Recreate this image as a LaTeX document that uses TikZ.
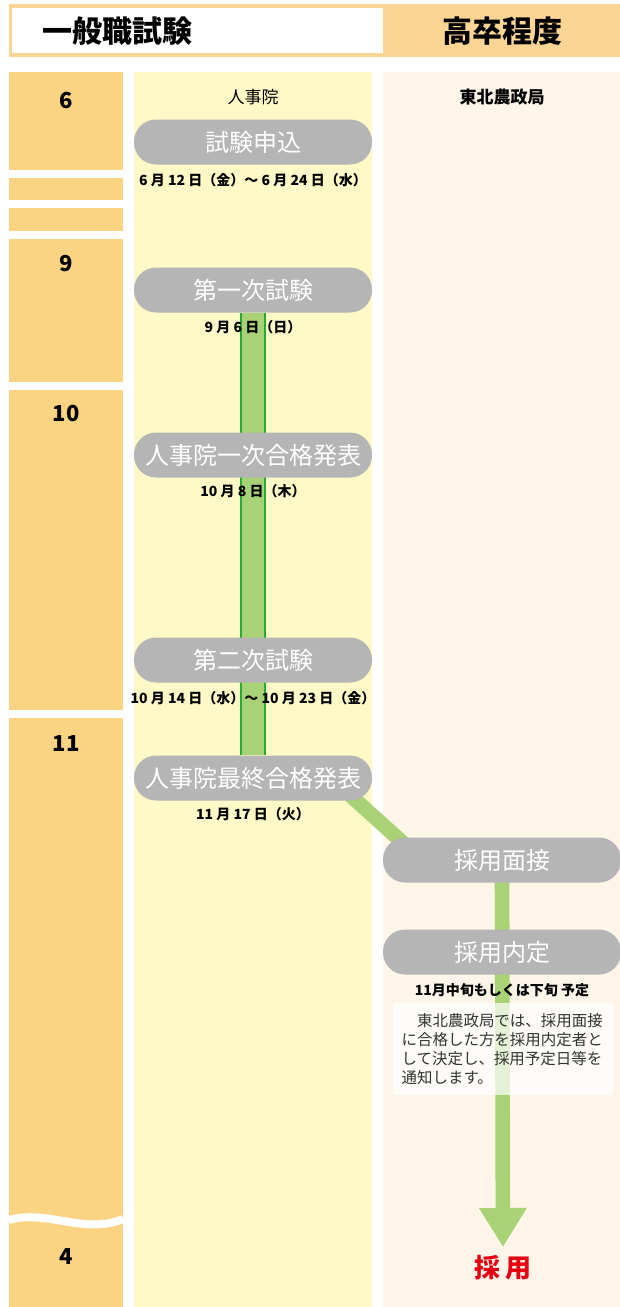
\documentclass[tikz,border=0pt]{standalone}
\usepackage{fontspec}
\setmainfont{Noto Sans CJK JP}
\usetikzlibrary{arrows.meta,calc}

\definecolor{headband}{HTML}{FBD594}
\definecolor{monthbg}{HTML}{FAD383}
\definecolor{jinjibg}{HTML}{FEF9C6}
\definecolor{nouseibg}{HTML}{FDF5E8}
\definecolor{pillgray}{HTML}{B5B5B5}
\definecolor{flowgreen}{HTML}{A9D175}
\definecolor{linegreen}{HTML}{22AC38}
\definecolor{hirered}{HTML}{E60012}
\definecolor{notetext}{HTML}{333333}

\pgfdeclarelayer{back}
\pgfsetlayers{back,main}

\begin{document}
\begin{tikzpicture}[x=0.75pt,y=-0.75pt]
\tikzset{pill/.style = {shape=rectangle,rounded corners=16.5pt,fill=pillgray,text=white,minimum width=178.5pt,minimum height=33.75pt,inner sep=0pt,font=\fontsize{18}{20}\selectfont}}
\tikzset{date/.style = {inner sep=0pt,font=\bfseries\fontsize{10.5}{12}\selectfont}}
\tikzset{month/.style = {inner sep=0pt,font=\bfseries\fontsize{16.5}{18}\selectfont}}
\tikzset{head/.style = {inner sep=0pt,font=\bfseries\fontsize{22.5}{24}\selectfont}}
\tikzset{flow/.style = {draw=flowgreen,line width=11pt}}
\tikzset{notebox/.style = {fill=white,fill opacity=0.7,text opacity=1,text=notetext,minimum width=165pt,minimum height=69pt,inner sep=0pt,text width=152pt,align=left,font=\fontsize{11.6}{14.3}\selectfont}}
\useasboundingbox (0,0) rectangle (620,1307);

\begin{pgfonlayer}{back}
\fill[headband] (9,4) rectangle (620,57);
\fill[white] (12,8) rectangle (383,53);
\fill[monthbg] (9,72) rectangle (123,170);
\fill[monthbg] (9,178) rectangle (123,200);
\fill[monthbg] (9,208) rectangle (123,231);
\fill[monthbg] (9,239) rectangle (123,382);
\fill[monthbg] (9,390) rectangle (123,710);
\fill[monthbg] (9,718) rectangle (123,1307);
\draw[white,line width=6pt] (9,1220) .. controls (45,1209) and (85,1235) .. (123,1219);
\fill[jinjibg] (134,72) rectangle (372,1307);
\fill[nouseibg] (383,72) rectangle (620,1307);
\end{pgfonlayer}

\node[head] (title) at (117,31) {一般職試験};
\node[head] (level) at (502,31) {高卒程度};

\node[month] (m6) at (66,101) {6};
\node[month] (m9) at (66,264) {9};
\node[month] (m10) at (66,414) {10};
\node[month] (m11) at (66,744) {11};
\node[month] (m4) at (66,1256) {4};

\node[inner sep=0pt,font=\fontsize{12.75}{14}\selectfont] (jinji) at (253,97) {人事院};
\node[inner sep=0pt,font=\bfseries\fontsize{12.75}{14}\selectfont] (nousei) at (502,97) {東北農政局};

\node[pill] (apply) at (253,142) {試験申込};
\node[pill] (exam1) at (253,290) {第一次試験};
\node[pill] (pass1) at (253,455) {人事院一次合格発表};
\node[pill] (exam2) at (253,660) {第二次試験};
\node[pill] (final) at (253,778) {人事院最終合格発表};
\node[pill] (interview) at (502,860) {採用面接};
\node[pill] (offer) at (502,952) {採用内定};

\node[date] (d1) at (253,180) {6 月 12 日（金）～ 6 月 24 日（水）};
\node[date] (d2) at (253,327) {9 月 6 日（日）};
\node[date] (d3) at (253,491) {10 月 8 日（木）};
\node[date] (d4) at (253,698) {10 月 14 日（水）～ 10 月 23 日（金）};
\node[date] (d5) at (253,814) {11 月 17 日（火）};
\node[date] (d6) at (502,990) {11月中旬もしくは下旬 予定};

\node[notebox] (note) at (503,1049) {　東北農政局では、採用面接\\に合格した方を採用内定者と\\して決定し、採用予定日等を\\通知します。};

\node[inner sep=0pt,text=hirered,font=\bfseries\fontsize{19.5}{21}\selectfont] (hire) at (503,1268) {採 用};
\coordinate (tip) at (503,1247);

\begin{pgfonlayer}{back}
\draw[linegreen,line width=19.5pt] (exam1) -- (final);
\draw[flowgreen,line width=16.5pt] (exam1) -- (final);
\draw[flow] ($(final.center)+(78,0)$) -- ($(interview.center)+(-80,0)$);
\draw[flow,-{Triangle[width=33.75pt,length=29.25pt]}] (interview.center) -- (tip);
\end{pgfonlayer}

\end{tikzpicture}
\end{document}
